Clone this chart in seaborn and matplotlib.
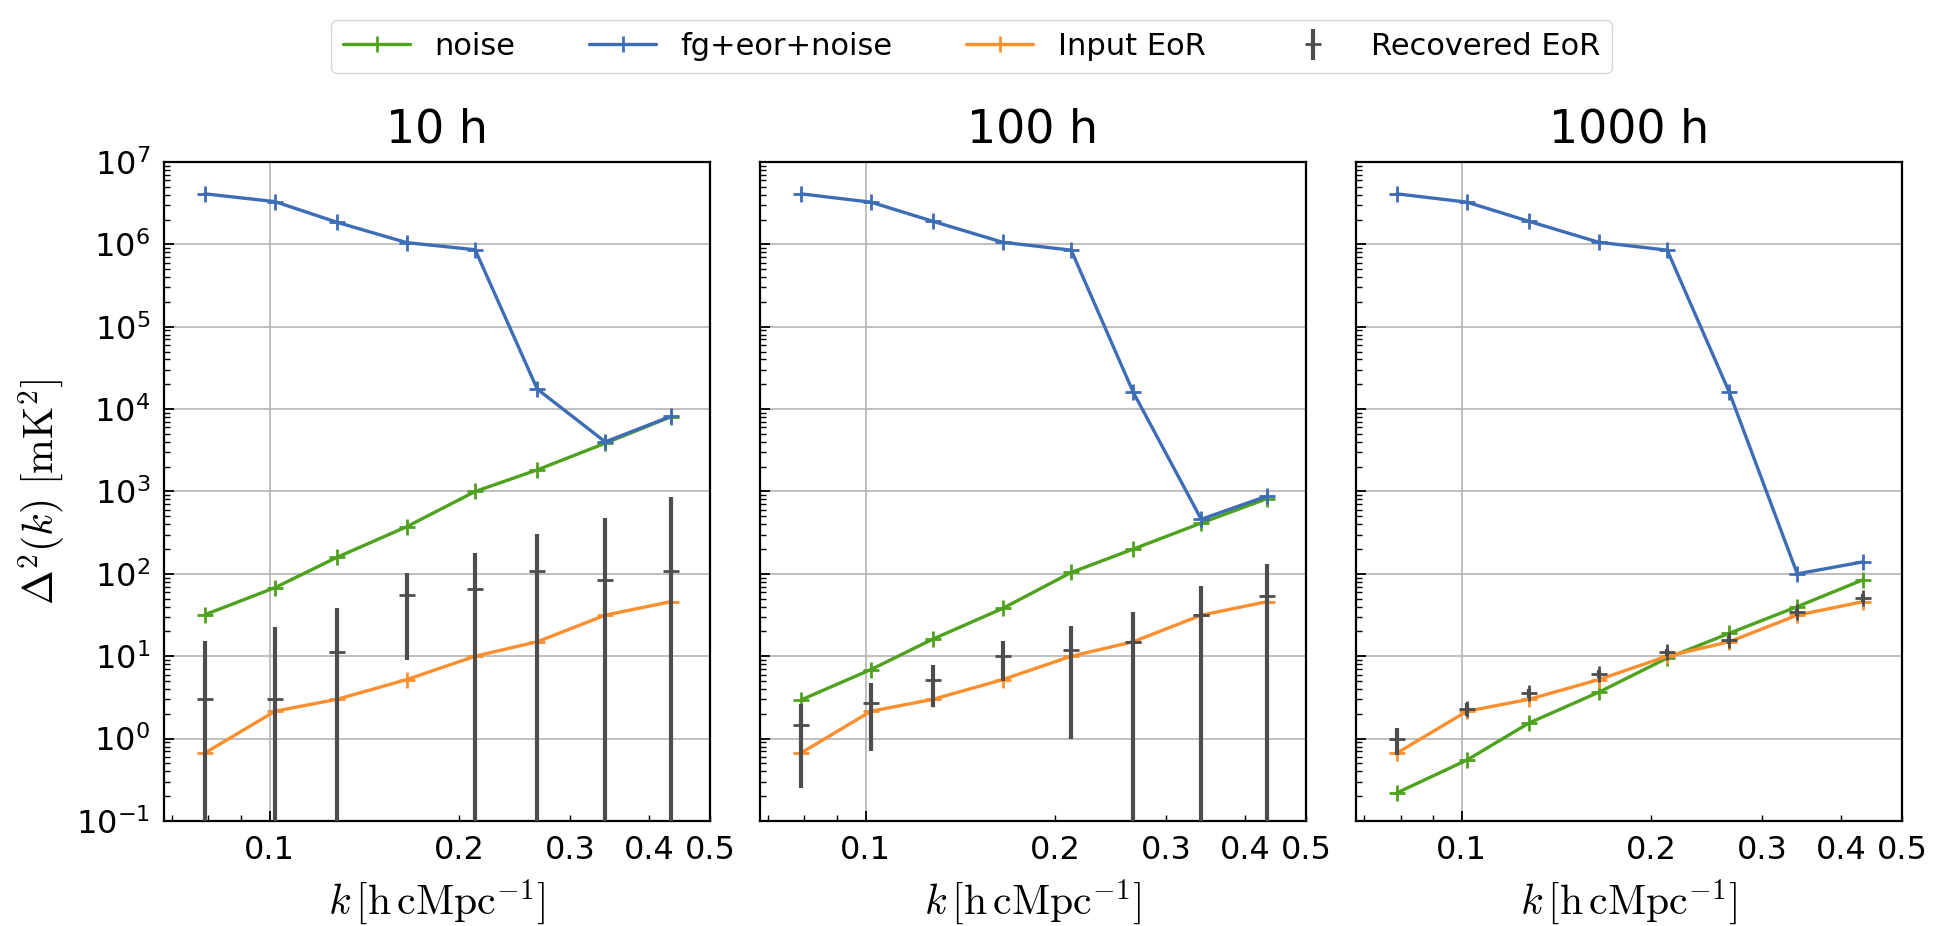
import numpy as np
import seaborn as sns
import matplotlib
matplotlib.use("Agg")
import matplotlib.pyplot as plt
from matplotlib.ticker import LogLocator, FuncFormatter, NullFormatter

# k bins (h cMpc^-1)
k = [0.079, 0.102, 0.128, 0.165, 0.212, 0.266, 0.341, 0.434]

titles = ["10 h", "100 h", "1000 h"]

# power spectra, one list per integration time
noise = [
    [32, 68, 159, 373, 1000, 1830, 3850, 8100],
    [2.95, 6.9, 16.2, 38, 104, 200, 414, 820],
    [0.22, 0.55, 1.55, 3.65, 9.5, 19, 40, 85],
]
fg_eor_noise = [
    [4.1e6, 3.3e6, 1.85e6, 1.05e6, 8.6e5, 1.75e4, 4.0e3, 8.2e3],
    [4.1e6, 3.25e6, 1.9e6, 1.06e6, 8.5e5, 1.6e4, 460, 880],
    [4.1e6, 3.25e6, 1.9e6, 1.06e6, 8.5e5, 1.6e4, 100, 140],
]
input_eor = [0.67, 2.15, 3.0, 5.2, 10.0, 15.0, 31.5, 46]

recovered = [
    [3.0, 3.0, 11.2, 55, 66, 107, 85, 107],
    [1.45, 2.7, 5.1, 10.2, 12, 14.8, 31.5, 54],
    [0.98, 2.3, 3.6, 6.1, 11.3, 15.8, 34, 51],
]
recovered_err = [
    [12.5, 19.5, 27, 46, 112, 200, 385, 750],
    [1.2, 2.0, 2.7, 5.2, 11, 20, 40, 77],
    [0.35, 0.4, 0.45, 0.65, 1.1, 1.6, 3.5, 5.5],
]

xtick_labels = [0.1, 0.2, 0.3, 0.4, 0.5]

c_noise = "#4ea21e"
c_fg = "#3d6db4"
c_eor = "#fb8f2f"
c_rec = "#4d4d4d"

sns.set_style("ticks")
plt.rcParams["font.family"] = ["DejaVu Sans"]
plt.rcParams["xtick.direction"] = "in"
plt.rcParams["ytick.direction"] = "in"
for key in ["text.color", "axes.labelcolor", "xtick.color", "ytick.color", "axes.edgecolor"]:
    plt.rcParams[key] = "black"

fig, axes = plt.subplots(1, 3, figsize=(19.43, 9.26), dpi=100, sharey=True)
fig.subplots_adjust(left=0.0844, right=0.9789, bottom=0.1134, top=0.8251, wspace=0.0917)

def xfmt(v, pos):
    for t in xtick_labels:
        if abs(v - t) < 1e-6:
            return f"{t:g}"
    return ""

for i, ax in enumerate(axes):
    lw = 2.4
    for y, c, lab in [(noise[i], c_noise, "noise"),
                      (fg_eor_noise[i], c_fg, "fg+eor+noise"),
                      (input_eor, c_eor, "Input EoR")]:
        sns.lineplot(x=k, y=y, color=c, lw=lw, label=lab, ax=ax, sort=False,
                     marker="+", markersize=12, markeredgewidth=2, markeredgecolor=c)
    ax.errorbar(k, recovered[i], yerr=recovered_err[i], fmt="+", color=c_rec,
                elinewidth=3, markersize=12, markeredgewidth=2, label="Recovered EoR", zorder=3)

    ax.set_xscale("log")
    ax.set_yscale("log")
    ax.set_xlim(0.068, 0.5)
    ax.set_ylim(1e-1, 1e7)

    ax.yaxis.set_major_locator(LogLocator(base=10, numticks=20))
    ax.yaxis.set_minor_locator(LogLocator(base=10, subs=np.arange(2, 10), numticks=20))
    ax.yaxis.set_minor_formatter(NullFormatter())
    ax.xaxis.set_major_formatter(FuncFormatter(xfmt))
    ax.xaxis.set_minor_formatter(FuncFormatter(xfmt))

    ax.grid(True, which="major", color="#b4b4b4", lw=1.2)
    ax.tick_params(which="both", top=False, right=False, labelsize=23, pad=10)
    ax.tick_params(which="major", length=7, width=1.3)
    ax.tick_params(which="minor", length=4, width=1.0)
    for s in ax.spines.values():
        s.set_linewidth(1.6)

    ax.set_title(titles[i], fontsize=33, pad=14)
    ax.set_xlabel(r"$k\,[\mathrm{h\,cMpc}^{-1}]$", fontsize=30, math_fontfamily="cm", labelpad=8)
    if ax.get_legend() is not None:
        ax.get_legend().remove()

axes[0].set_ylabel(r"$\Delta^2(k)\ [\mathrm{mK}^2]$", fontsize=30, math_fontfamily="cm", labelpad=6)

handles, labels = axes[0].get_legend_handles_labels()
fig.legend(handles, labels, loc="upper center", bbox_to_anchor=(0.5, 0.995), ncol=4,
           fontsize=22, columnspacing=2.4, handlelength=2.2, frameon=True)

plt.savefig("out.png", dpi=100)
